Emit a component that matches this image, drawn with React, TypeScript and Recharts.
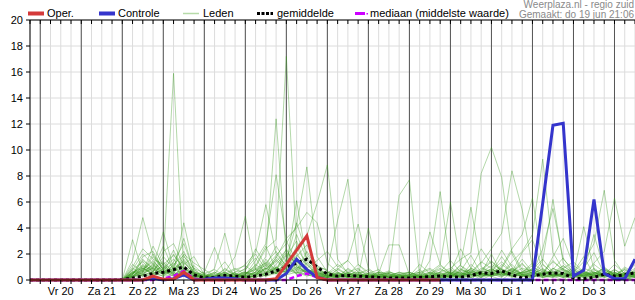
import { CartesianGrid, Line, LineChart, ReferenceLine, XAxis, YAxis } from 'recharts'

const FONT = '"Liberation Sans", Arial, sans-serif'

// 6-hourly steps, starting do 19 jun 18:00
const STEPS = Array.from({ length: 60 }, (_, i) => i)
const DAY_LABELS = ['Vr 20', 'Za 21', 'Zo 22', 'Ma 23', 'Di 24', 'Wo 25', 'Do 26', 'Vr 27', 'Za 28', 'Zo 29', 'Ma 30', 'Di 1', 'Wo 2', 'Do 3']
const Y_TICKS = [0, 2, 4, 6, 8, 10, 12, 14, 16, 18, 20]

const oper = [
  0, 0, 0, 0, 0, 0, 0, 0, 0, 0, 0, 0, 0.3, 0.05, 0.05, 0.6, 0, 0, 0, 0, 0,
  0, 0, 0, 0.1, 1.2, 2.3, 3.4, 0.2, 0, 0, 0, 0, 0, 0, 0, 0, 0, 0, 0, 0,
]

const controle = [
  0, 0, 0, 0, 0, 0, 0, 0, 0, 0, 0, 0, 0.15, 0, 0.1, 0.4, 0, 0.05, 0.15, 0.15, 0.1,
  0, 0, 0, 0, 0.5, 1.6, 0.8, 0.2, 0, 0, 0, 0, 0, 0, 0, 0, 0, 0, 0, 0,
  0, 0, 0, 0, 0, 0, 0, 0, 0, 5.9, 11.9, 12.05, 0.3, 0.75, 6.2, 0.5, 0.1, 0.1, 1.6,
]

const gemiddelde = [
  0, 0, 0, 0, 0, 0, 0, 0, 0, 0.05, 0.15, 0.3, 0.5, 0.6, 0.8, 1.0, 0.4, 0.15, 0.2, 0.35, 0.3,
  0.2, 0.3, 0.45, 0.7, 1.0, 1.3, 1.6, 1.0, 0.45, 0.3, 0.35, 0.3, 0.25, 0.2, 0.15, 0.15, 0.15, 0.2, 0.25, 0.3,
  0.25, 0.2, 0.35, 0.55, 0.5, 0.7, 0.4, 0.15, 0.3, 0.45, 0.55, 0.5, 0.15, 0.1, 0.2, 0.45, 0.3, 0.4, 0.55,
]

const mediaan = [
  0, 0, 0, 0, 0, 0, 0, 0, 0, 0, 0, 0, 0, 0.1, 0.3, 0.7, 0.1, 0, 0, 0, 0,
  0, 0, 0, 0, 0, 0.3, 0.5, 0.2, 0, 0, 0, 0, 0, 0, 0, 0, 0, 0, 0, 0,
  0, 0, 0, 0, 0, 0, 0, 0, 0, 0, 0, 0, 0, 0, 0, 0, 0, 0, 0,
]

const leden: number[][] = [
  [0,0,0,0,0,0,0,0,0, 0,0.5,1.2,0.8, 1.5,15.9,0.6,0.2, 0,0,0.3,0.5, 0.2,0,0.4,1.2, 2.1,1.5,0.6,0.3, 0.2,0,0,0.4, 0.3,0,0,0.2, 0,0,0.6,1.2, 0.5,0.2,0,0.8, 1.5,0.6,0.3,0, 0.2,0.5,1.4,0.8, 0.3,0,0.5,0.9, 0.4,0.2,0],
  [0,0,0,0,0,0,0,0,0, 0,0.3,0.8,1.5, 0.6,1.1,2.2,0.4, 0.1,0,0,0.2, 0.5,1.0,2.4,3.1, 17.2,2.5,1.2,0.4, 0.2,0.5,0.3,0, 0,0.2,0.5,0, 0,0.3,0.2,0, 0.4,1.1,0.6,0.2, 0.8,2.3,1.0,0.4, 0.6,0.3,0.8,1.7, 0.5,0.2,0,0.3, 0.8,0.4,1.2],
  [0,0,0,0,0,0,0,0,0, 0,0.8,2.0,1.2, 0.4,0.9,3.2,0.6, 0.2,0.5,1.4,0.3, 0,0.6,1.8,12.4, 1.8,3.0,0.9,0.2, 0,0.3,0.8,0.4, 0.1,0,0,0.3, 0.6,0.2,0,0, 0.2,0.7,1.9,0.5, 0.3,0,0.6,1.3, 0.4,0.9,0.3,0, 0.6,1.8,0.4,0.2, 0,0.5,0.3],
  [0,0,0,0,0,0,0,0,0, 0,1.2,0.6,2.6, 1.1,0.5,1.8,0.9, 0,0,0.5,0.2, 0.4,1.5,2.8,8.1, 3.0,1.4,0.8,0.5, 0.3,0.8,1.5,0.6, 0.2,0.3,0,0, 0,0.5,0.8,0.3, 0,0.2,0.9,2.4, 1.2,0.8,0.3,0.6, 1.1,0.4,0.2,0.6, 0.3,0.9,2.1,0.5, 0.2,0,0.4],
  [0,0,0,0,0,0,0,0,0, 0,0.4,1.5,0.9, 2.6,0.7,1.0,0.3, 0,0.2,0.9,0.4, 0.2,0.3,1.0,1.9, 2.8,4.2,8.7,1.8, 0.6,0.2,0,0.3, 0.5,0.8,0.2,0, 0.2,0,0.4,1.1, 0.5,0.3,0,0.2, 0.6,1.8,0.7,0.3, 0.2,0.6,1.5,0.7, 0.3,0.2,0.6,0.4, 1.2,0.5,0.3],
  [0,0,0,0,0,0,0,0,0, 0,0.2,0.6,1.8, 0.8,2.3,0.6,0.2, 0.3,0.6,0.2,0, 0,0.4,1.3,2.2, 1.0,2.6,3.4,5.9, 8.85,1.6,0.5,0.2, 0,0.4,0.7,0.2, 0,0,0.3,0.6, 0.2,0.8,0.5,0, 0.4,0.9,2.2,0.8, 0.5,0.2,0.4,0.9, 0.4,0.3,1.2,0.6, 0.3,0.8,0.2],
  [0,0,0,0,0,0,0,0,0, 0,0,0.4,1.0, 0.5,1.4,2.8,0.7, 0.2,0,0,0.4, 0.9,2.0,0.8,1.4, 2.3,1.1,0.6,1.0, 0.8,4.6,7.75,1.2, 0.4,0.2,0,0, 0.3,0.8,0.2,0, 0.6,0.3,1.2,0.5, 2.0,0.5,0.2,0.4, 0.8,1.6,0.6,0.3, 0.2,0.5,0.3,1.0, 0.4,0.2,0.6],
  [0,0,0,0,0,0,0,0,0, 0,0.6,0.3,0.5, 1.2,0.4,0.9,0.5, 0,0.3,0.6,0.2, 0.3,0.2,0.5,1.6, 0.8,1.9,1.2,0.4, 0.2,0.3,0.6,0.9, 0.3,0.4,0.5,6.5, 7.7,0.3,0,0.2, 0.4,0.2,0.6,1.4, 0.9,0.3,0.5,1.6, 0.6,0.2,0.3,0.5, 0.8,0.3,0.2,0.6, 0.3,0.9,0.4],
  [0,0,0,0,0,0,0,0,0, 0,0.3,0.9,0.5, 0.3,0.8,1.5,0.4, 0.2,0.4,0.1,0, 0.1,0.8,1.1,2.6, 1.4,0.7,2.2,0.9, 0.4,0.2,0.3,0.1, 0.2,0.5,2.7,2.7, 0.4,0.2,1.5,6.8, 1.0,0.4,0.2,0.6, 0.3,0.5,1.2,0.4, 0.2,0.7,0.4,1.1, 0.5,0.2,0.8,0.3, 0.6,0.2,0],
  [0,0,0,0,0,0,0,0,0, 0,0.9,0.4,1.3, 0.6,0.3,1.2,1.8, 0.4,0.2,0,0.3, 0.6,0.3,0.9,0.5, 1.1,3.5,1.6,0.7, 0.3,0.6,0.2,0.5, 0.8,0.2,0.4,0.3, 0.2,0.6,3.7,1.2, 6.0,1.1,0.4,0.3, 0.5,0.2,0.9,0.4, 0.3,1.2,0.5,0.2, 0.4,0.7,0.3,0.5, 0.2,0.4,0.7],
  [0,0,0,0,0,0,0,0,0, 0,0.2,1.1,0.6, 1.8,0.9,0.4,0.2, 0.5,0.8,0.3,0.2, 0.4,1.2,0.6,0.9, 2.0,1.3,0.5,0.8, 0.5,0.3,0.2,0.4, 0.3,0,0.2,0.4, 0.2,0.5,0.3,0.6, 0.9,1.6,2.1,8.2, 10.2,7.9,2.0,0.6, 0.4,0.3,0.9,0.5, 0.2,0.6,0.4,0.3, 0.5,0.3,0.2],
  [0,0,0,0,0,0,0,0,0, 0,0.5,0.7,2.0, 0.9,1.6,0.5,0.3, 0.2,0.1,0.4,0.8, 1.1,0.5,0.3,1.0, 0.6,1.8,2.7,1.1, 0.7,0.3,0.5,0.2, 0.4,0.6,0.2,0.3, 0.5,0.3,0.2,0.4, 0.3,0.8,0.5,1.3, 2.4,3.6,8.4,5.4, 1.0,0.6,0.3,0.8, 0.5,0.3,0.9,0.4, 0.2,0.6,0.4],
  [0,0,0,0,0,0,0,0,0, 0,0.7,0.5,0.9, 0.4,1.2,1.9,0.5, 0.1,0.3,0.8,0.4, 0.2,0.6,1.4,0.8, 1.6,0.9,1.3,0.5, 0.2,0.8,0.4,0.6, 0.5,0.2,0.3,0.6, 0.3,0.2,0.5,0.3, 0.7,0.4,0.9,0.6, 1.1,0.5,1.4,2.2, 3.5,9.3,2.1,0.8, 0.4,0.9,0.6,0.3, 0.5,0.2,0.3],
  [0,0,0,0,0,0,0,0,0, 0,0.4,1.6,0.8, 0.5,0.7,1.3,0.6, 0.3,0,0.2,0.6, 0.8,1.7,0.4,0.6, 1.2,0.5,1.8,0.6, 0.3,0.2,0.9,0.4, 0.2,0.4,0.3,0.5, 0.6,0.3,0.2,0.5, 0.4,0.6,0.3,0.9, 0.6,1.0,2.4,3.5, 6.3,1.2,0.5,0.3, 0.6,1.4,2.8,6.9, 1.5,0.4,0.6],
  [0,0,0,0,0,0,0,0,0, 0,0.3,0.8,1.4, 0.7,0.3,0.6,1.1, 0.4,0.2,0.3,0.5, 0.3,0.9,0.5,1.8, 0.9,2.1,0.7,0.4, 0.6,0.4,0.3,0.8, 0.3,0.2,0.5,0.2, 0.4,0.6,0.3,0.2, 0.5,0.3,0.7,0.4, 0.9,0.4,0.6,1.2, 0.5,2.4,5.5,1.6, 0.8,0.4,1.3,2.2, 6.3,2.6,4.8],
  [0,0,0,0,0,0,0,0,0, 0,0.6,1.0,0.4, 1.3,0.6,4.4,0.8, 0.3,0.5,0.2,0.1, 0.5,0.3,1.6,0.7, 2.4,1.0,0.6,0.9, 0.5,1.2,0.6,0.3, 4.0,0.5,0.2,0.3, 0.2,0.4,0.6,0.3, 0.8,0.5,0.2,0.4, 0.6,0.3,0.8,0.5, 0.9,0.4,1.8,3.2, 1.1,0.6,0.4,0.8, 0.3,1.0,0.5],
  [0,0,0,0,0,0,0,0,0, 0,1.5,4.8,1.9, 0.8,1.3,0.6,0.4, 0.2,0.9,3.6,0.5, 0.3,0.6,0.9,1.5, 0.7,1.2,0.4,0.3, 0.2,0.6,0.3,0.2, 0.5,0.3,0.6,0.4, 0.3,0.2,0.4,0.8, 0.5,0.9,0.4,0.6, 0.8,0.5,0.3,0.6, 1.3,0.7,0.4,0.2, 0.6,0.3,0.5,0.9, 0.4,0.2,0.8],
  [0,0,0,0,0,0,0,0,0, 0,3.1,0.6,1.0, 3.7,0.9,1.4,0.5, 0.2,0.4,0.6,1.8, 4.9,0.8,0.3,0.6, 1.3,0.4,0.8,0.5, 0.3,0.2,0.5,0.3, 0.2,0.4,0.3,0.6, 0.4,0.3,0.2,0.5, 0.6,0.4,0.8,0.3, 0.5,0.9,0.4,0.3, 0.6,0.3,0.9,0.5, 0.4,0.7,0.3,0.5, 0.6,0.3,0.2],
  [0,0,0,0,0,0,0,0,0, 0,0.2,0.7,1.1, 0.6,2.0,0.8,0.3, 0.4,0.2,0.1,0.3, 0.7,2.4,1.1,0.5, 1.5,4.4,2.0,0.8, 0.4,0.3,0.6,0.2, 0.3,0.5,0.2,0.4, 0.6,0.3,0.5,0.9, 0.4,1.2,5.6,1.0, 0.6,0.4,0.9,0.5, 0.8,0.4,0.6,1.1, 0.5,4.1,0.8,0.4, 0.3,0.6,0.5],
  [0,0,0,0,0,0,0,0,0, 0,0.4,0.3,0.7, 1.0,0.5,0.3,0.9, 0.5,0.3,0.2,0, 0.2,0.5,0.8,1.7, 3.2,4.0,5.2,4.4, 1.3,0.6,0.2,0.4, 0.3,0.2,0.4,0.3, 0.2,0.4,0.3,0.2, 0.3,0.5,0.4,0.7, 1.4,0.8,0.5,0.3, 0.4,1.5,6.2,1.3, 0.6,0.3,0.5,0.4, 0.8,0.3,0.5],
  [0,0,0,0,0,0,0,0,0, 0,0.6,0.4,0.3, 0.9,0.4,0.7,0.3, 0.2,0.1,0.3,0.6, 1.2,2.1,5.8,2.0, 1.1,6.1,1.4,0.6, 0.3,0.5,0.4,1.2, 0.6,0.3,0.2,0.4, 0.3,0.2,0.4,0.6, 1.5,0.6,0.3,0.5, 0.4,0.7,0.5,0.9, 0.7,0.3,0.4,0.6, 0.9,0.5,0.3,0.6, 0.4,0.8,0.3],
  [0,0,0,0,0,0,0,0,0, 0,0.8,1.4,0.6, 2.2,2.8,1.1,0.4, 0.6,2.5,0.4,0.2, 0.3,0.2,0.6,1.0, 0.5,0.8,0.6,0.3, 0.5,0.9,0.4,0.6, 0.2,0.6,0.4,0.2, 0.4,0.6,0.9,0.4, 0.2,0.3,0.6,0.4, 0.3,0.6,0.8,0.4, 0.5,0.8,0.3,0.4, 0.3,0.5,0.6,0.2, 0.5,0.4,0.9],
  [0,0,0,0,0,0,0,0,0, 0,0.3,0.5,0.9, 0.4,0.6,2.0,1.3, 0.8,0.3,0.5,0.9, 0.4,1.1,2.6,0.8, 0.6,1.7,0.9,1.5, 2.2,1.0,1.5,4.3, 0.9,0.3,0.6,0.4, 0.3,1.2,0.5,0.3, 0.6,2.4,0.9,0.5, 0.3,1.2,0.6,0.4, 0.3,0.5,0.7,0.4, 0.7,0.4,0.2,0.5, 0.3,0.5,0.4],
  [0,0,0,0,0,0,0,0,0, 0,0.5,0.9,0.4, 0.6,1.0,0.5,0.2, 0.1,0.3,0.5,0.4, 0.6,0.4,0.9,0.6, 0.9,0.6,0.4,0.7, 0.4,0.3,0.2,0.5, 0.3,0.6,0.5,0.3, 0.2,0.3,0.6,0.4, 0.5,0.6,0.8,0.4, 0.7,1.4,0.6,2.1, 3.1,0.8,0.5,0.9, 1.4,0.6,3.5,0.8, 0.4,0.2,0.6],
  [0,0,0,0,0,0,0,0,0, 0,0.6,0.9,0.5, 0.8,0.4,0.6,0.2, 0,0.2,0.4,0.3, 0.5,0.8,0.4,0.9, 0.6,0.9,0.5,0.3, 0.2,0.4,0.3,0.2, 0.1,0.3,0.2,0.1, 0.2,0.1,0.3,0.2, 0.3,0.5,0.4,0.6, 0.8,0.6,0.4,0.5, 0.4,0.6,0.3,0.5, 0.3,0.4,0.6,0.4, 0.3,0.5,0.2],
  [0,0,0,0,0,0,0,0,0, 0,0.3,0.6,1.2, 0.5,0.9,0.4,0.3, 0.2,0,0.1,0.2, 0.1,0.4,0.7,0.5, 0.8,0.5,0.9,0.4, 0.3,0.2,0.4,0.3, 0.2,0.1,0.3,0.2, 0.1,0.2,0.1,0.3, 0.4,0.3,0.6,0.5, 0.6,0.8,0.5,0.3, 0.5,0.4,0.6,0.3, 0.5,0.3,0.4,0.7, 0.6,0.3,0.4],
  [0,0,0,0,0,0,0,0,0, 0,1.0,2.4,1.6, 1.2,1.9,0.9,0.4, 0.3,0.2,0.6,0.2, 0.4,0.9,1.3,0.7, 0.5,1.4,0.8,0.6, 0.3,0.5,0.2,0.3, 0.2,0.4,0.2,0.3, 0.4,0.2,0.3,0.4, 0.2,0.4,0.7,0.5, 0.4,0.3,0.5,0.6, 0.8,0.4,0.3,0.5, 0.4,0.6,0.3,0.4, 0.2,0.4,0.6],
  [0,0,0,0,0,0,0,0,0, 0,0.4,1.8,2.2, 0.7,0.5,1.6,0.6, 0.2,0.6,0.3,0.1, 0.2,0.3,0.5,0.8, 1.9,0.7,0.4,0.2, 0.4,0.3,0.5,0.2, 0.3,0.2,0.1,0.2, 0.3,0.4,0.2,0.1, 0.3,0.2,0.4,0.3, 0.5,0.4,0.7,0.3, 0.2,0.5,0.4,0.3, 0.2,0.4,0.5,0.3, 0.4,0.2,0.3],
  [0,0,0,0,0,0,0,0,0, 0,0.2,0.4,0.6, 0.3,0.4,0.8,0.5, 0.1,0.1,0.2,0.3, 0.3,0.6,0.3,0.5, 0.4,0.6,0.3,0.5, 0.6,0.3,0.2,0.1, 0.2,0.2,0.1,0.2, 0.1,0.2,0.2,0.1, 0.2,0.3,0.2,0.4, 0.3,0.5,0.3,0.4, 0.3,0.2,0.4,0.2, 0.2,0.3,0.2,0.4, 0.3,0.1,0.2],
  [0,0,0,0,0,0,0,0,0, 0,0.5,1.1,0.7, 1.4,0.6,0.3,0.6, 0.4,0.2,0.2,0.3, 0.6,0.4,1.2,0.6, 0.7,1.0,0.6,0.3, 0.2,0.2,0.3,0.4, 0.4,0.2,0.3,0.2, 0.2,0.3,0.2,0.2, 0.4,0.3,0.5,0.2, 0.4,0.6,0.3,0.6, 0.6,0.3,0.2,0.4, 0.3,0.5,0.2,0.3, 0.2,0.4,0.3],
]

const rows = STEPS.map((i) => {
  const row: Record<string, number | null> = {
    i,
    oper: i < oper.length ? oper[i] : null,
    controle: controle[i],
    gemiddelde: gemiddelde[i],
    mediaan: mediaan[i],
  }
  leden.forEach((member, k) => {
    row[`m${k}`] = member[i]
  })
  return row
})

const dayStarts = DAY_LABELS.map((_, d) => 1 + d * 4).concat([57])

function DayTick({ x, y, payload }: { x?: number; y?: number; payload?: { value: number } }) {
  const v = payload?.value ?? 0
  const d = (v - 3) / 4
  const label = Number.isInteger(d) ? DAY_LABELS[d] : undefined
  if (!label) return <g />
  return (
    <text x={x} y={(y ?? 0) + 1} dy="0.71em" textAnchor="middle" fontSize={11} fill="#000" fontFamily={FONT}>
      {label}
    </text>
  )
}

function HeaderLegend() {
  const text = { fontSize: 11, fill: '#000', fontFamily: FONT }
  return (
    <svg width={635} height={20} style={{ position: 'absolute', left: 0, top: 0 }}>
      <rect x={28} y={11.5} width={16} height={4} fill="#d43a3a" />
      <text x={47} y={17} {...text}>Oper.</text>
      <rect x={99} y={11.5} width={16} height={4} fill="#3535cc" />
      <text x={118} y={17} {...text}>Controle</text>
      <line x1={183} x2={199} y1={13.5} y2={13.5} stroke="#b6dba8" strokeWidth={1.5} />
      <text x={203} y={17} {...text}>Leden</text>
      <line x1={257} x2={273} y1={13.5} y2={13.5} stroke="#000" strokeWidth={3} strokeDasharray="3 1.5" />
      <text x={277} y={17} {...text}>gemiddelde</text>
      <line x1={355} x2={365} y1={13.5} y2={13.5} stroke="#cc00ff" strokeWidth={3} />
      <rect x={366.5} y={13} width={1.5} height={1.5} fill="#cc00ff" />
      <text x={370} y={17} {...text}>mediaan (middelste waarde)</text>
      <text x={634} y={8} textAnchor="end" fontSize={10} fill="#8a8a8a" fontFamily={FONT}>Weerplaza.nl - regio zuid</text>
      <text x={634} y={18} textAnchor="end" fontSize={10} fill="#8a8a8a" fontFamily={FONT}>Gemaakt: do 19 jun 21:06</text>
    </svg>
  )
}

export default function App() {
  return (
    <div style={{ position: 'absolute', left: 0, top: 0, width: 635, height: 300, background: '#fff' }}>
      <LineChart width={635} height={300} data={rows} margin={{ top: 20, right: 0, bottom: 0, left: 0 }}>
        <CartesianGrid stroke="#dcdcdc" strokeWidth={1} />
        <XAxis
          dataKey="i"
          type="number"
          domain={[0, 59]}
          ticks={STEPS}
          interval={0}
          height={20}
          tickSize={4}
          axisLine={{ stroke: '#000' }}
          tickLine={{ stroke: '#000' }}
          tick={<DayTick />}
        />
        <XAxis
          xAxisId="top"
          dataKey="i"
          type="number"
          orientation="top"
          mirror
          domain={[0, 59]}
          ticks={STEPS}
          interval={0}
          tickSize={4}
          axisLine={{ stroke: '#000' }}
          tickLine={{ stroke: '#000' }}
          tick={() => <g />}
        />
        <YAxis
          domain={[0, 20]}
          ticks={Y_TICKS}
          interval={0}
          width={30}
          tickSize={4}
          tickMargin={3}
          axisLine={{ stroke: '#000' }}
          tickLine={{ stroke: '#000' }}
          tick={{ fontSize: 11, fill: '#000', fontFamily: FONT }}
        />
        {dayStarts.map((d) => (
          <ReferenceLine key={d} x={d} stroke="#555" strokeWidth={1} />
        ))}
        {leden.map((_, k) => (
          <Line
            key={k}
            dataKey={`m${k}`}
            type="linear"
            stroke="#38981c"
            strokeOpacity={0.38}
            strokeWidth={1}
            dot={false}
            isAnimationActive={false}
          />
        ))}
        <Line dataKey="mediaan" type="linear" stroke="#cc00ff" strokeWidth={2.5} strokeDasharray="5 3" dot={false} isAnimationActive={false} />
        <Line dataKey="gemiddelde" type="linear" stroke="#000" strokeWidth={3} strokeDasharray="3 3" dot={false} isAnimationActive={false} />
        <Line dataKey="controle" type="linear" stroke="#3535cc" strokeWidth={3} dot={false} isAnimationActive={false} />
        <Line dataKey="oper" type="linear" stroke="#d43a3a" strokeWidth={3} dot={false} isAnimationActive={false} connectNulls={false} />
      </LineChart>
      <HeaderLegend />
    </div>
  )
}
